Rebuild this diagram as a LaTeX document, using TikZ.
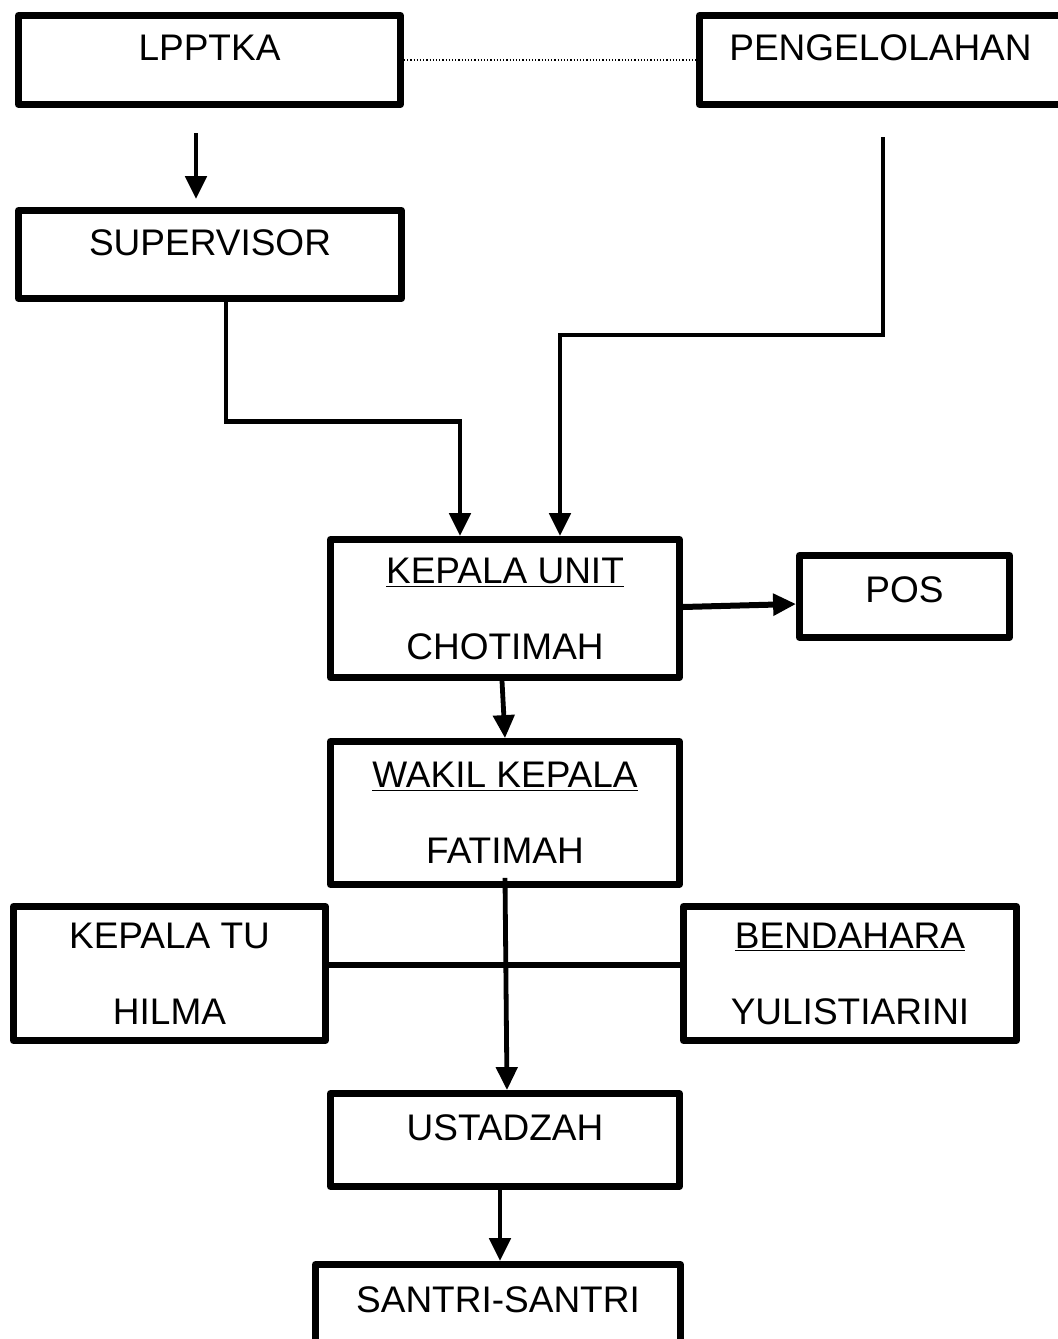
\documentclass[tikz,border=0pt]{standalone}
\usepackage{fontspec}
\setmainfont{Liberation Sans}
\usetikzlibrary{arrows.meta}
\tikzstyle{chart}=[x=0.5pt, y=-0.5pt, font=\fontsize{18.5}{38}\selectfont]
\tikzstyle{box}=[rectangle, draw, line width=3.4pt, line join=round, inner sep=0pt, align=center, fill=white]
\tikzstyle{edge}=[line width=2.4pt, -{Triangle[width=10.5pt,length=11.5pt]}]
\tikzstyle{link}=[line width=3.2pt]
\tikzstyle{rel}=[line width=0.6pt, densely dotted]

\begin{document}
\begin{tikzpicture}[chart]
	\useasboundingbox (0,0) rectangle (1058,1339);
	\draw (209.5,60) node[box, minimum width=191pt, minimum height=44.5pt, text depth=12pt] (lpptka) {LPPTKA};
	\draw (880.5,60) node[box, minimum width=181pt, minimum height=44.5pt, text depth=12pt] (peng) {PENGELOLAHAN};
	\draw (210,254.5) node[box, minimum width=191.5pt, minimum height=44pt, text depth=11.5pt] (superv) {SUPERVISOR};
	\coordinate (lpout) at (196,133);
	\coordinate (pengout) at (883,137);
	\draw[rel] (lpptka.east) -- (peng.west);
	\draw[edge, shorten >=4pt] (lpout) -- (lpout |- superv.north);
	%
	\draw (505,608.5) node[box, minimum width=174.5pt, minimum height=69pt] (kunit) {\underline{KEPALA UNIT}\\CHOTIMAH};
	\draw (904.5,596.5) node[box, minimum width=105pt, minimum height=41pt, text depth=6.5pt] (pos) {POS};
	\draw (505,813) node[box, minimum width=174.5pt, minimum height=71.5pt] (wakil) {\underline{WAKIL KEPALA}\\FATIMAH};
	\draw[edge] ([xshift=8pt]superv.south) -- ++(0,119.5) -| ([xshift=-22.5pt]kunit.north);
	\draw[edge] (pengout) -- ++(0,198) -| ([xshift=27.5pt]kunit.north);
	\draw[edge, line width=3pt] ([yshift=0.75pt]kunit.east) -- ([yshift=-3.75pt]pos.west);
	\draw[edge] ([xshift=-1.5pt]kunit.south) -- (wakil.north);
	%
	\draw (169.5,973.5) node[box, minimum width=156pt, minimum height=67pt] (katu) {KEPALA TU\\HILMA};
	\draw (850,973.5) node[box, minimum width=166.5pt, minimum height=67pt] (bend) {\underline{BENDAHARA}\\YULISTIARINI};
	\draw (505,1140) node[box, minimum width=174.5pt, minimum height=46.5pt, text depth=12pt] (ustad) {USTADZAH};
	\draw (498,1311) node[box, minimum width=182.5pt, minimum height=46.5pt, text depth=11pt] (santri) {SANTRI-SANTRI};
	\draw[link] ([yshift=4.25pt]katu.east) -- ([yshift=4.25pt]bend.west);
	\draw[edge] ([yshift=5pt]wakil.south) -- ([xshift=1pt]ustad.north);
	\draw[edge] ([xshift=-2.5pt]ustad.south) -- ([xshift=1pt]santri.north);
\end{tikzpicture}
\end{document}
